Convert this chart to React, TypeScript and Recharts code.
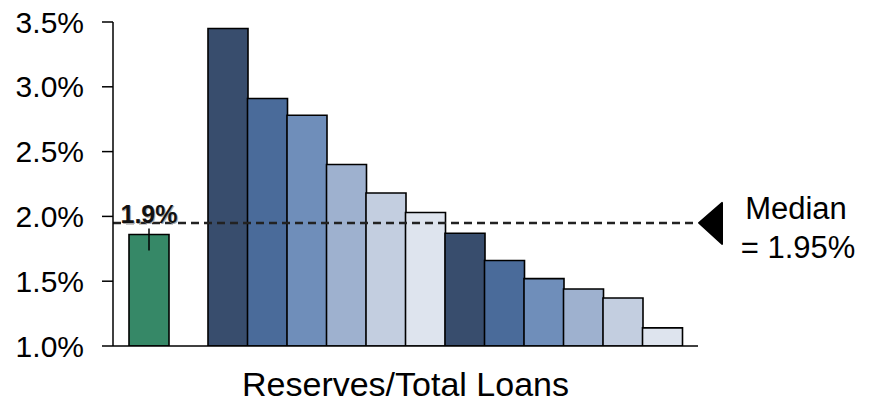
import React from "react";
import {
  BarChart,
  Bar,
  XAxis,
  YAxis,
  Cell,
  ReferenceLine,
  LabelList,
} from "recharts";

// company first, then an empty slot, then the peer group (high to low)
const categories = [
  "Company",
  "",
  "Peer 1",
  "Peer 2",
  "Peer 3",
  "Peer 4",
  "Peer 5",
  "Peer 6",
  "Peer 7",
  "Peer 8",
  "Peer 9",
  "Peer 10",
  "Peer 11",
  "Peer 12",
];
const reserveRatios = [
  1.86, null, 3.45, 2.91, 2.78, 2.4, 2.18, 2.03, 1.87, 1.66, 1.52, 1.44, 1.37,
  1.14,
];
const barColors = [
  "#368867",
  "transparent",
  "#384D6D",
  "#4A6B9A",
  "#6F8EBA",
  "#9EB1CF",
  "#C3CEE0",
  "#DEE4EE",
  "#384D6D",
  "#4A6B9A",
  "#6F8EBA",
  "#9EB1CF",
  "#C3CEE0",
  "#DEE4EE",
];
const yTicks = [1.0, 1.5, 2.0, 2.5, 3.0, 3.5];
const median = 1.95;
const companyLabel = "1.9%";
const axisTitle = "Reserves/Total Loans";

const data = categories.map((name, i) => ({ name, value: reserveRatios[i] }));

const FONT = "'Liberation Sans', Arial, sans-serif";

function CompanyLabel(props: any) {
  const { x, y, width, index } = props;
  if (index !== 0) return null;
  const cx = x + width / 2;
  return (
    <g>
      <text
        x={cx + 1}
        y={y - 11}
        textAnchor="middle"
        fontSize={25}
        fontWeight="bold"
        fill="#aaa"
        fontFamily={FONT}
      >
        {companyLabel}
      </text>
      <text
        x={cx}
        y={y - 12}
        textAnchor="middle"
        fontSize={25}
        fontWeight="bold"
        fill="#111"
        fontFamily={FONT}
      >
        {companyLabel}
      </text>
      <line x1={cx} x2={cx} y1={y - 6} y2={y + 16} stroke="#000" strokeWidth={1.5} />
    </g>
  );
}

function MedianMarker(props: any) {
  const { viewBox } = props;
  const right = viewBox.x + viewBox.width;
  const y = viewBox.y;
  return (
    <g>
      <polygon
        points={`${right + 1},${y} ${right + 24},${y - 20} ${right + 24},${y + 21}`}
        fill="#000"
        stroke="#000"
        strokeLinejoin="round"
        strokeWidth={2}
      />
      <text x={796} y={y - 4} textAnchor="middle" fontSize={31} fill="#000" fontFamily={FONT}>
        Median
      </text>
      <text x={798} y={y + 35} textAnchor="middle" fontSize={31} fill="#000" fontFamily={FONT}>
        {`= ${median.toFixed(2)}%`}
      </text>
    </g>
  );
}

export default function App() {
  return (
    <div style={{ position: "absolute", left: 0, top: 0, background: "#fff", fontFamily: FONT }}>
      <BarChart
        width={871}
        height={404}
        data={data}
        barCategoryGap={0}
        margin={{ top: 22, right: 173, bottom: 0, left: 0 }}
      >
        <XAxis
          dataKey="name"
          tick={false}
          tickLine={false}
          axisLine={{ stroke: "#000", strokeWidth: 1.5 }}
          padding={{ left: 16, right: 16 }}
          height={58}
          label={{
            value: axisTitle,
            position: "insideBottom",
            offset: 8,
            fontSize: 34,
            fill: "#000",
            fontFamily: FONT,
          }}
        />
        <YAxis
          domain={[1, 3.5]}
          ticks={yTicks}
          allowDataOverflow
          width={113}
          tickSize={11}
          tickMargin={18}
          tickFormatter={(v: number) => `${v.toFixed(1)}%`}
          tick={{ fill: "#000", fontSize: 30, fontFamily: FONT }}
          axisLine={{ stroke: "#000", strokeWidth: 1.5 }}
          tickLine={{ stroke: "#000", strokeWidth: 1.5 }}
        />
        <Bar dataKey="value" isAnimationActive={false} stroke="#000" strokeWidth={1.6}>
          {data.map((d, i) => (
            <Cell key={i} fill={barColors[i]} />
          ))}
          <LabelList dataKey="value" content={CompanyLabel} />
        </Bar>
        <ReferenceLine
          y={median}
          stroke="#222"
          strokeWidth={2.5}
          strokeDasharray="8 5"
          label={MedianMarker}
        />
      </BarChart>
    </div>
  );
}
